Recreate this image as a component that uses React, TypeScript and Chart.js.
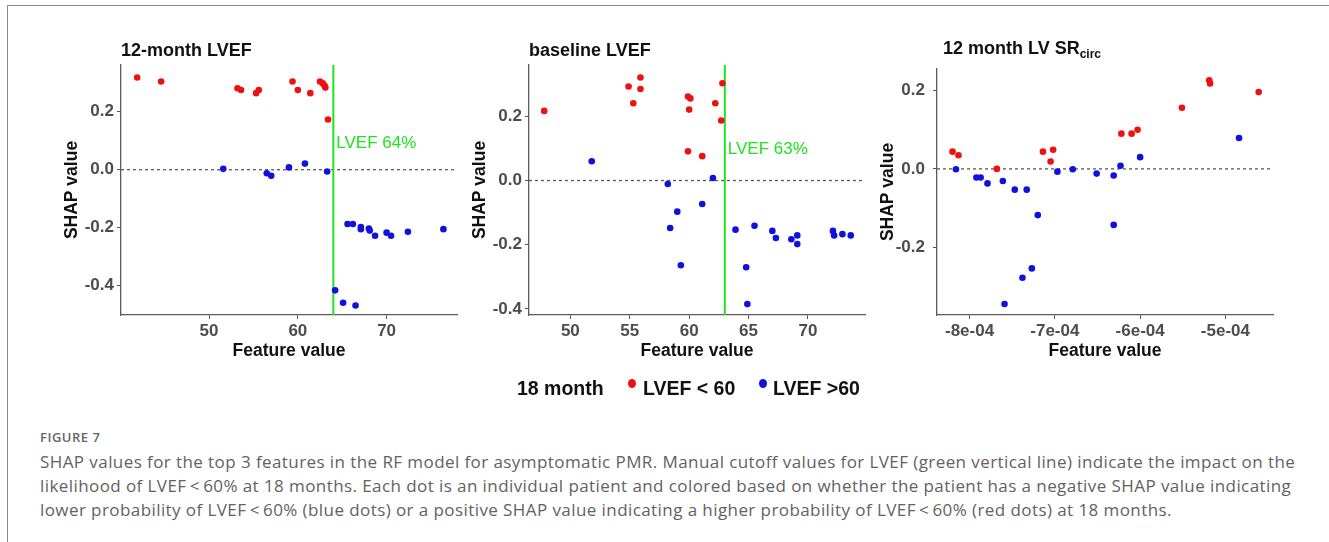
import React, { useEffect, useRef } from "react";
import { Chart, registerables } from "chart.js";

Chart.register(...registerables);

const FONT = "'Liberation Sans', Arial, sans-serif";
const RED = "#ee1111";
const BLUE = "#1111dd";
const GREEN = "#1ee31e";

// ---------- Panel 1: 12-month LVEF ----------
const P1_RED_X = [41.9, 44.6, 53.2, 53.6, 55.3, 55.6, 59.4, 60.0, 61.4, 62.5, 62.8, 63.0, 63.1, 63.4];
const P1_RED_Y = [0.318, 0.304, 0.281, 0.275, 0.264, 0.275, 0.304, 0.275, 0.264, 0.304, 0.298, 0.29, 0.283, 0.173];
const P1_BLUE_X = [51.6, 56.5, 57.0, 59.0, 60.8, 63.3, 65.6, 66.2, 67.1, 67.1, 68.0, 68.1, 68.7, 70.0, 70.5, 72.4, 76.4, 64.2, 65.1, 66.5];
const P1_BLUE_Y = [0.003, -0.012, -0.021, 0.008, 0.021, -0.006, -0.187, -0.187, -0.198, -0.205, -0.203, -0.21, -0.228, -0.217, -0.228, -0.214, -0.205, -0.416, -0.459, -0.468];
const P1_X_TICKS = [50, 60, 70];
const P1_Y_TICKS = [-0.4, -0.2, 0, 0.2];
const P1_CUTOFF = 64;

// ---------- Panel 2: baseline LVEF ----------
const P2_RED_X = [47.8, 54.9, 55.3, 55.9, 55.9, 59.9, 60.1, 60.0, 59.9, 61.1, 62.2, 62.8, 62.7];
const P2_RED_Y = [0.217, 0.293, 0.241, 0.321, 0.285, 0.262, 0.256, 0.221, 0.091, 0.076, 0.241, 0.303, 0.187];
const P2_BLUE_X = [51.8, 58.2, 62.0, 61.1, 59.0, 58.4, 59.3, 63.9, 65.5, 64.8, 64.9, 67.0, 67.3, 68.6, 69.1, 69.1, 72.1, 72.2, 72.9, 73.6];
const P2_BLUE_Y = [0.06, -0.011, 0.008, -0.073, -0.097, -0.148, -0.264, -0.153, -0.141, -0.27, -0.385, -0.157, -0.179, -0.183, -0.171, -0.198, -0.157, -0.171, -0.167, -0.171];
const P2_X_TICKS = [50, 55, 60, 65, 70];
const P2_Y_TICKS = [-0.4, -0.2, 0, 0.2];
const P2_CUTOFF = 63;

// ---------- Panel 3: 12 month LV SRcirc ----------
const P3_RED_X = [-8.2e-4, -8.13e-4, -7.68e-4, -7.14e-4, -7.05e-4, -7.02e-4, -6.22e-4, -6.1e-4, -6.03e-4, -5.51e-4, -5.19e-4, -5.18e-4, -4.61e-4];
const P3_RED_Y = [0.044, 0.035, 0.0, 0.044, 0.019, 0.049, 0.09, 0.09, 0.1, 0.156, 0.226, 0.218, 0.196];
const P3_BLUE_X = [-8.16e-4, -7.92e-4, -7.87e-4, -7.79e-4, -7.61e-4, -7.47e-4, -7.33e-4, -7.2e-4, -6.97e-4, -6.79e-4, -6.51e-4, -6.31e-4, -6.31e-4, -6.23e-4, -6.0e-4, -4.84e-4, -7.27e-4, -7.38e-4, -7.59e-4];
const P3_BLUE_Y = [-0.001, -0.022, -0.022, -0.037, -0.031, -0.053, -0.053, -0.118, -0.007, -0.001, -0.012, -0.017, -0.143, 0.008, 0.03, 0.079, -0.254, -0.278, -0.345];
const P3_X_TICKS = [-8e-4, -7e-4, -6e-4, -5e-4];
const P3_Y_TICKS = [-0.2, 0, 0.2];

const LEGEND_TITLE = "18 month";
const LEGEND_LABELS = ["LVEF < 60", "LVEF >60"];

const zip = (xs: number[], ys: number[]) => xs.map((x, i) => ({ x, y: ys[i] }));

const refLinesPlugin = {
  id: "refLines",
  beforeDatasetsDraw(chart: any, _args: any, opts: any) {
    const { ctx, chartArea } = chart;
    const xs = chart.scales.x;
    const ys = chart.scales.y;
    ctx.save();
    // zero dashed line
    const y0 = ys.getPixelForValue(0);
    ctx.strokeStyle = "#5a5a5a";
    ctx.lineWidth = 1.3;
    ctx.setLineDash([3, 3]);
    ctx.beginPath();
    ctx.moveTo(chartArea.left, y0);
    ctx.lineTo(chartArea.right, y0);
    ctx.stroke();
    ctx.setLineDash([]);
    if (opts && opts.cutoff != null) {
      const xc = xs.getPixelForValue(opts.cutoff);
      ctx.strokeStyle = GREEN;
      ctx.lineWidth = 2;
      ctx.beginPath();
      ctx.moveTo(xc, chartArea.top);
      ctx.lineTo(xc, chartArea.bottom);
      ctx.stroke();
      ctx.fillStyle = GREEN;
      ctx.font = `17px ${FONT}`;
      ctx.textBaseline = "middle";
      ctx.textAlign = "left";
      ctx.fillText(opts.label, xc + 3, ys.getPixelForValue(opts.labelY));
    }
    ctx.restore();
  },
};

type PanelProps = {
  left: number;
  top: number;
  width: number;
  height: number;
  padTop: number;
  redX: number[];
  redY: number[];
  blueX: number[];
  blueY: number[];
  xMin: number;
  xMax: number;
  yMin: number;
  yMax: number;
  xTicks: number[];
  yTicks: number[];
  xFmt: (v: number) => string;
  yTickPad: number;
  yTitlePad: number;
  cutoff?: number;
  cutoffLabel?: string;
  cutoffLabelY?: number;
};

function Panel(p: PanelProps) {
  const ref = useRef<HTMLCanvasElement | null>(null);
  useEffect(() => {
    if (!ref.current) return;
    const tickFont = { family: FONT, size: 17, weight: "bold" as const };
    const titleFont = { family: FONT, size: 17.5, weight: "bold" as const };
    const chart = new Chart(ref.current, {
      type: "scatter",
      data: {
        datasets: [
          { data: zip(p.blueX, p.blueY), backgroundColor: BLUE, borderWidth: 0, pointRadius: 3.3 },
          { data: zip(p.redX, p.redY), backgroundColor: RED, borderWidth: 0, pointRadius: 3.3 },
        ],
      },
      options: {
        responsive: false,
        animation: false,
        events: [],
        layout: { padding: { left: 0, right: 13, top: p.padTop, bottom: 0 } },
        plugins: {
          legend: { display: false },
          tooltip: { enabled: false },
          refLines: { cutoff: p.cutoff, label: p.cutoffLabel, labelY: p.cutoffLabelY },
        } as any,
        scales: {
          x: {
            type: "linear",
            min: p.xMin,
            max: p.xMax,
            afterBuildTicks: (s: any) => {
              s.ticks = p.xTicks.map((v) => ({ value: v }));
            },
            afterFit: (s: any) => {
              s.height = 60;
            },
            ticks: { color: "#4d4d4d", font: tickFont, padding: 2, callback: (v: any) => p.xFmt(Number(v)) },
            grid: { drawOnChartArea: false, drawTicks: true, tickLength: 4, color: "#555", lineWidth: 1 },
            border: { display: true, color: "#5c5c5c", width: 1.3 },
            title: { display: true, text: "Feature value", color: "#111", font: titleFont, padding: { top: 0, bottom: 13 } },
          },
          y: {
            type: "linear",
            min: p.yMin,
            max: p.yMax,
            afterBuildTicks: (s: any) => {
              s.ticks = p.yTicks.map((v) => ({ value: v }));
            },
            afterFit: (s: any) => {
              s.width = 81;
            },
            ticks: { color: "#4d4d4d", font: tickFont, padding: p.yTickPad, callback: (v: any) => Number(v).toFixed(1) },
            grid: { drawOnChartArea: false, drawTicks: true, tickLength: 4, color: "#555", lineWidth: 1 },
            border: { display: true, color: "#5c5c5c", width: 1.3 },
            title: { display: true, text: "SHAP value", color: "#111", font: titleFont, padding: { top: p.yTitlePad, bottom: 0 } },
          },
        },
      },
      plugins: [refLinesPlugin],
    } as any);
    return () => chart.destroy();
  }, []);
  return (
    <canvas
      ref={ref}
      width={p.width}
      height={p.height}
      style={{ position: "absolute", left: p.left, top: p.top, width: p.width, height: p.height }}
    />
  );
}

const fmtInt = (v: number) => String(Math.round(v));
const fmtExp = (v: number) => `${Math.round(v * 1e4)}e-04`;

const titleStyle: React.CSSProperties = {
  position: "absolute",
  fontFamily: FONT,
  fontWeight: "bold",
  fontSize: 18,
  lineHeight: "20px",
  color: "#111",
  whiteSpace: "nowrap",
};

const captionLine: React.CSSProperties = {
  position: "absolute",
  left: 40,
  fontFamily: "'Open Sans', sans-serif",
  fontSize: 17,
  letterSpacing: 0.42,
  lineHeight: "24px",
  color: "#626262",
  whiteSpace: "nowrap",
};

const legendText: React.CSSProperties = {
  position: "absolute",
  top: 376,
  fontFamily: FONT,
  fontWeight: "bold",
  fontSize: 19.5,
  lineHeight: "24px",
  color: "#111",
  whiteSpace: "nowrap",
};

export default function App() {
  return (
    <div
      style={{
        position: "absolute",
        left: 0,
        top: 0,
        width: 1329,
        height: 542,
        overflow: "hidden",
        background: "#fff",
      }}
    >
      <div
        style={{
          position: "absolute",
          left: 7,
          top: 5,
          width: 1330,
          height: 545,
          borderTop: "1.5px solid #8a8a8a",
          borderLeft: "1.5px solid #8a8a8a",
        }}
      />
      <Panel
        left={40} top={30} width={430} height={345} padTop={35}
        redX={P1_RED_X} redY={P1_RED_Y} blueX={P1_BLUE_X} blueY={P1_BLUE_Y}
        xMin={40.08} xMax={77.93} yMin={-0.501} yMax={0.361}
        xTicks={P1_X_TICKS} yTicks={P1_Y_TICKS} xFmt={fmtInt}
        yTickPad={3} yTitlePad={22}
        cutoff={P1_CUTOFF} cutoffLabel={`LVEF ${P1_CUTOFF}%`} cutoffLabelY={0.092}
      />
      <Panel
        left={448} top={30} width={430} height={345} padTop={35}
        redX={P2_RED_X} redY={P2_RED_Y} blueX={P2_BLUE_X} blueY={P2_BLUE_Y}
        xMin={46.52} xMax={74.8} yMin={-0.419} yMax={0.36}
        xTicks={P2_X_TICKS} yTicks={P2_Y_TICKS} xFmt={fmtInt}
        yTickPad={3} yTitlePad={21.5}
        cutoff={P2_CUTOFF} cutoffLabel={`LVEF ${P2_CUTOFF}%`} cutoffLabelY={0.098}
      />
      <Panel
        left={856} top={30} width={430} height={345} padTop={39}
        redX={P3_RED_X} redY={P3_RED_Y} blueX={P3_BLUE_X} blueY={P3_BLUE_Y}
        xMin={-8.382e-4} xMax={-4.442e-4} yMin={-0.373} yMax={0.255}
        xTicks={P3_X_TICKS} yTicks={P3_Y_TICKS} xFmt={fmtExp}
        yTickPad={8} yTitlePad={21.5}
      />
      <div style={{ ...titleStyle, left: 121, top: 40 }}>12-month LVEF</div>
      <div style={{ ...titleStyle, left: 529, top: 40 }}>baseline LVEF</div>
      <div style={{ ...titleStyle, left: 943, top: 38 }}>
        12 month LV SR<span style={{ fontSize: 12, position: "relative", top: 4 }}>circ</span>
      </div>

      {/* legend */}
      <div style={{ ...legendText, left: 517 }}>{LEGEND_TITLE}</div>
      <div style={{ position: "absolute", left: 628, top: 379, width: 8, height: 9, borderRadius: "50%", background: RED }} />
      <div style={{ ...legendText, left: 643 }}>{LEGEND_LABELS[0]}</div>
      <div style={{ position: "absolute", left: 759, top: 379, width: 8, height: 9, borderRadius: "50%", background: BLUE }} />
      <div style={{ ...legendText, left: 773 }}>{LEGEND_LABELS[1]}</div>

      {/* caption */}
      <div style={{ position: "absolute", left: 40, top: 428, fontFamily: "'Open Sans', sans-serif", fontWeight: 600, fontSize: 13, lineHeight: "18px", letterSpacing: 0.5, color: "#666" }}>
        FIGURE 7
      </div>
      <div style={{ ...captionLine, top: 450 }}>
        SHAP values for the top 3 features in the RF model for asymptomatic PMR. Manual cutoff values for LVEF (green vertical line) indicate the impact on the
      </div>
      <div style={{ ...captionLine, top: 474 }}>
        likelihood of LVEF{"\u2009<\u2009"}60% at 18 months. Each dot is an individual patient and colored based on whether the patient has a negative SHAP value indicating
      </div>
      <div style={{ ...captionLine, top: 498 }}>
        lower probability of LVEF{"\u2009<\u2009"}60% (blue dots) or a positive SHAP value indicating a higher probability of LVEF{"\u2009<\u2009"}60% (red dots) at 18 months.
      </div>
    </div>
  );
}
